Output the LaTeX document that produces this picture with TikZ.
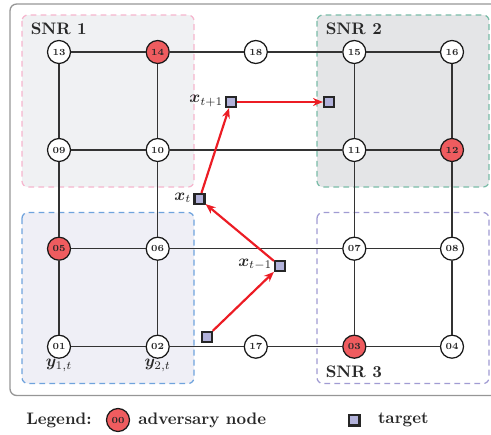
\documentclass[tikz,border=0pt]{standalone}
\usepackage{amsmath,bm}
\usetikzlibrary{arrows.meta}
\definecolor{advred}{RGB}{239,92,95}
\definecolor{tgtfill}{RGB}{178,178,218}
\definecolor{arrred}{RGB}{236,28,36}
\definecolor{snrAfill}{RGB}{240,241,243}
\definecolor{snrAline}{RGB}{246,182,206}
\definecolor{snrBfill}{RGB}{228,229,231}
\definecolor{snrBline}{RGB}{122,188,168}
\definecolor{snrCline}{RGB}{160,155,211}
\definecolor{snrDfill}{RGB}{239,239,246}
\definecolor{snrDline}{RGB}{111,163,221}
\definecolor{framegray}{RGB}{150,150,150}
\definecolor{txtdark}{RGB}{40,40,40}
\begin{document}
\begin{tikzpicture}[x=0.6pt,y=-0.6pt,
  gnode/.style={circle,draw=black!90,line width=0.75pt,fill=white,minimum size=13.8pt,inner sep=0pt,
    font=\fontsize{5.6}{6}\selectfont\bfseries,text=txtdark},
  adv/.style={gnode,fill=advred},
  tgt/.style={rectangle,draw=black!85,line width=1.3pt,fill=tgtfill,minimum size=6pt,inner sep=0pt},
  edge/.style={draw=black!80,line width=0.95pt},
  arr/.style={draw=arrred,line width=1.3pt,-{Stealth[length=6pt,width=4.8pt]}},
  snrbox/.style={dashed,line width=0.75pt,dash pattern=on 3.5pt off 2.5pt,rounded corners=3.5pt},
  snrlabel/.style={anchor=west,font=\bfseries,text=txtdark,inner sep=0pt},
  lbl/.style={inner sep=0pt,text=txtdark},
  legtext/.style={anchor=west,font=\bfseries,text=txtdark,inner sep=0pt}
]
\useasboundingbox (0,0) rectangle (491,434);
% outer frame
\draw[framegray,line width=0.8pt,rounded corners=4pt] (10,4) rectangle (505,395.5);
% SNR regions
\draw[snrbox,draw=snrAline,fill=snrAfill] (22,15) rectangle (194,187);
\draw[snrbox,draw=snrBline,fill=snrBfill] (317,15) rectangle (489,187);
\draw[snrbox,draw=snrCline,fill=white] (317,212.5) rectangle (489,383.5);
\draw[snrbox,draw=snrDline,fill=snrDfill] (22,212.5) rectangle (194,383.5);
\node[snrlabel] (s1) at (30.5,29) {SNR 1};
\node[snrlabel] (s2) at (325.5,29) {SNR 2};
\node[snrlabel] (s3) at (325.5,372) {SNR 3};
% graph nodes
\node[gnode] (n13) at (59,52) {13};
\node[adv]   (n14) at (157.7,52) {14};
\node[gnode] (n18) at (255.8,52) {18};
\node[gnode] (n15) at (354.3,52) {15};
\node[gnode] (n16) at (452,52) {16};
\node[gnode] (n09) at (59,150) {09};
\node[gnode] (n10) at (157.7,150) {10};
\node[gnode] (n11) at (354.3,150) {11};
\node[adv]   (n12) at (452,150) {12};
\node[adv]   (n05) at (59,248.7) {05};
\node[gnode] (n06) at (157.7,248.7) {06};
\node[gnode] (n07) at (354.3,248.7) {07};
\node[gnode] (n08) at (452,248.7) {08};
\node[gnode] (n01) at (59,346.7) {01};
\node[gnode] (n02) at (157.7,346.7) {02};
\node[gnode] (n17) at (255.8,346.7) {17};
\node[adv]   (n03) at (354.3,346.7) {03};
\node[gnode] (n04) at (452,346.7) {04};
% edges
\path[edge] (n13)--(n14) (n14)--(n18) (n18)--(n15) (n15)--(n16)
  (n09)--(n10) (n10)--(n11) (n11)--(n12)
  (n05)--(n06) (n06)--(n07) (n07)--(n08)
  (n01)--(n02) (n02)--(n17) (n17)--(n03) (n03)--(n04)
  (n13)--(n09) (n09)--(n05) (n05)--(n01)
  (n14)--(n10) (n10)--(n06) (n06)--(n02)
  (n15)--(n11) (n11)--(n07) (n07)--(n03)
  (n16)--(n12) (n12)--(n08) (n08)--(n04);
% labels y
\node[lbl] (y1) at (59,365.5) {$\bm{y}_{1,t}$};
\node[lbl] (y2) at (157.7,365.5) {$\bm{y}_{2,t}$};
% targets
\node[tgt] (t0) at (206.7,336.7) {};
\node[tgt] (tm1) at (280,266) {};
\node[tgt] (tt) at (199.5,199) {};
\node[tgt] (tp1) at (231,102) {};
\node[tgt] (tn) at (329,102) {};
\node[lbl,anchor=east] (ltm1) at (272.5,264.5) {$\bm{x}_{t-1}$};
\node[lbl,anchor=east] (ltt) at (191.5,198) {$\bm{x}_{t}$};
\node[lbl,anchor=east] (ltp1) at (223.5,101) {$\bm{x}_{t+1}$};
% arrows
\draw[arr] (t0) -- (tm1);
\draw[arr] (tm1) -- (tt);
\draw[arr] (tt) -- (tp1);
\draw[arr] (tp1) -- (tn);
% legend
\node[legtext] (lg) at (26,420) {Legend:};
\node[adv] (lgc) at (118,420) {00};
\node[legtext] (lga) at (138,420) {adversary node};
\node[tgt,minimum size=6.5pt] (lgt) at (354,420) {};
\node[legtext] (lgtt) at (377.7,420) {target};
\end{tikzpicture}
\end{document}
